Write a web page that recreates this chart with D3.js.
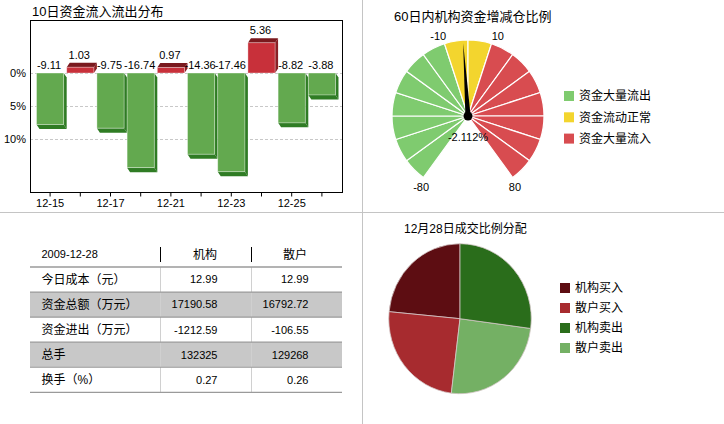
<!DOCTYPE html>
<html><head><meta charset="utf-8">
<script src="https://cdn.jsdelivr.net/npm/d3@7"></script>
<style>
html,body{margin:0;padding:0;background:#fff;}
svg{display:block;font-family:"Liberation Sans",Arial,"Noto Sans CJK SC",sans-serif;}
</style></head>
<body><svg id="c" width="724" height="424"></svg>
<script>
// ---------- data ----------
const barTitle = "10日资金流入流出分布";
const dates = ["12-15","12-16","12-17","12-18","12-21","12-22","12-23","12-24","12-25","12-28"];
const flows = [-9.11, 1.03, -9.75, -16.74, 0.97, -14.36, -17.46, 5.36, -8.82, -3.88];
const pctTicks = [0, 5, 10];

const gaugeTitle = "60日内机构资金增减仓比例";
const gaugeMin = -80, gaugeMax = 80, gaugeStep = 10;
const gaugeBandNames = ["资金大量流出", "资金流动正常", "资金大量流入"];
const gaugeBandLimits = [-10, 10];
const gaugeTickLabels = [-80, -10, 10, 80];
const gaugeValue = -2.112;

const tableHeader = ["2009-12-28", "机构", "散户"];
const rowLabels = ["今日成本（元）", "资金总额（万元）", "资金进出（万元）", "总手", "换手（%）"];
const instValues = ["12.99", "17190.58", "-1212.59", "132325", "0.27"];
const retailValues = ["12.99", "16792.72", "-106.55", "129268", "0.26"];

const pieTitle = "12月28日成交比例分配";
const pieNames = ["机构买入", "散户买入", "机构卖出", "散户卖出"];
const pieValues = [7989.0, 8343.1, 9201.6, 8449.6];
const pieDrawOrder = ["机构买入", "散户买入", "散户卖出", "机构卖出"];

// ---------- styles ----------
const gaugeColors = ["#7fcb6f", "#f3d52e", "#d84c50"];
const pieColors = {"机构买入":"#5d0d12","散户买入":"#a72b2f","机构卖出":"#2a6d1b","散户卖出":"#74b064"};

const svg = d3.select("#c");
svg.append("rect").attr("width",724).attr("height",424).attr("fill","#fff");

// dividers
svg.append("line").attr("x1",362.5).attr("x2",362.5).attr("y1",0).attr("y2",424).attr("stroke","#c4c4c4");
svg.append("line").attr("x1",0).attr("x2",724).attr("y1",212.5).attr("y2",212.5).attr("stroke","#c4c4c4");

// ---------- bar chart ----------
const fr = {l:30, t:20, r:342, b:192};
svg.append("text").attr("x",32).attr("y",16).attr("font-size",13).text(barTitle);

const x = d3.scaleBand().domain(dates).range([35, 337]).paddingInner(0.1).paddingOuter(0.05);
const y = d3.scaleLinear().domain([-21.05, 9.38]).range([fr.b, fr.t]);
const yPct = d3.scaleLinear().domain([0, 10]).range([y(0), y(0) + 66.3]);

const g1 = svg.append("g");
// gridlines
g1.selectAll("line.grid").data(pctTicks).join("line")
  .attr("x1",fr.l).attr("x2",fr.r)
  .attr("y1",d=>Math.round(yPct(d))+0.5).attr("y2",d=>Math.round(yPct(d))+0.5)
  .attr("stroke","#c8c8c8").attr("stroke-dasharray","3,2");

// y axis labels
const yAx = g1.append("g").attr("transform",`translate(${fr.l},0)`)
  .call(d3.axisLeft(yPct).tickValues(pctTicks).tickSize(0).tickPadding(4).tickFormat(d=>d+"%"));
yAx.select(".domain").remove();
yAx.selectAll("text").attr("font-size",11).attr("fill","#000").attr("font-family",null);

// bars
const dx = 3, dz = 4.5;
const bw = x.bandwidth();
flows.forEach((v,i)=>{
  const x0 = x(dates[i]), x1 = x0 + bw;
  const yz = y(0), yv = y(v);
  const dy = v < 0 ? dz : -dz;
  const front = v < 0 ? "#63a94f" : "#c8303a";
  const side = v < 0 ? "#2f7c24" : "#8a1f25";
  const end = v < 0 ? "#2f7c24" : "#7a191e";
  g1.append("polygon").attr("points",[[x1,yz],[x1+dx,yz+dy],[x1+dx,yv+dy],[x1,yv]].join(" ")).attr("fill",side);
  g1.append("polygon").attr("points",[[x0,yv],[x0+dx,yv+dy],[x1+dx,yv+dy],[x1,yv]].join(" ")).attr("fill",end);
  g1.append("rect").attr("x",x0).attr("width",bw)
    .attr("y",Math.min(yz,yv)).attr("height",Math.abs(yv-yz))
    .attr("fill",front).attr("stroke","rgba(255,255,255,0.45)").attr("stroke-width",0.8);
  const ly = v < 0 ? yz - 4 : yv - dz - 4;
  g1.append("text").attr("x",x0+bw/2-1).attr("y",ly).attr("text-anchor","middle")
    .attr("font-size",11).text(v.toFixed(2));
});

// frame
g1.append("rect").attr("x",fr.l+0.5).attr("y",fr.t+0.5).attr("width",fr.r-fr.l).attr("height",fr.b-fr.t)
  .attr("fill","none").attr("stroke","#000");

// x axis
const xAx = g1.append("g").attr("transform",`translate(0,${fr.b+0.5})`)
  .call(d3.axisBottom(x).tickSize(4).tickPadding(3).tickFormat((d,i)=> i%2===0 ? d : ""));
xAx.select(".domain").remove();
xAx.selectAll("line").attr("stroke","#000");
xAx.selectAll("text").attr("font-size",11).attr("fill","#000").attr("font-family",null);

// ---------- gauge ----------
svg.append("text").attr("x",394).attr("y",21).attr("font-size",13).text(gaugeTitle);
const gcx = 468, gcy = 116, gR = 76;
const ga = d3.scaleLinear().domain([gaugeMin, gaugeMax]).range([-0.8*Math.PI, 0.8*Math.PI]);
const bandIdx = v => v < gaugeBandLimits[0] ? 0 : (v < gaugeBandLimits[1] ? 1 : 2);
const sectors = d3.range(gaugeMin, gaugeMax, gaugeStep);
const garc = d3.arc().innerRadius(0).outerRadius(gR);
const g2 = svg.append("g").attr("transform",`translate(${gcx},${gcy})`);
g2.selectAll("path.sec").data(sectors).join("path")
  .attr("d",s=>garc({startAngle:ga(s), endAngle:ga(s+gaugeStep)}))
  .attr("fill",s=>gaugeColors[bandIdx(s+gaugeStep/2)])
  .attr("stroke","#fff").attr("stroke-width",1.2);

// tick labels
gaugeTickLabels.forEach(t=>{
  const ang = ga(t) + Math.sign(t)*2.5*Math.PI/180;
  g2.append("text").attr("x",85*Math.sin(ang)).attr("y",-85*Math.cos(ang)).attr("dy","0.35em")
    .attr("text-anchor","middle").attr("font-size",11).text(t);
});
// needle
const th = ga(gaugeValue);
const tipR = 73, hw = 2.6;
const tip = [tipR*Math.sin(th), -tipR*Math.cos(th)];
const b1 = [hw*Math.cos(th), hw*Math.sin(th)], b2 = [-hw*Math.cos(th), -hw*Math.sin(th)];
g2.append("polygon").attr("points",[tip,b1,b2].join(" ")).attr("fill","#000");
g2.append("circle").attr("r",4.5).attr("fill","#000");
g2.append("text").attr("x",0).attr("y",25).attr("text-anchor","middle").attr("font-size",11)
  .text(gaugeValue + "%");

// gauge legend
gaugeBandNames.forEach((n,i)=>{
  const yy = 91 + i*21.3;
  svg.append("rect").attr("x",564).attr("y",yy).attr("width",10).attr("height",10).attr("fill",gaugeColors[i]);
  svg.append("text").attr("x",579).attr("y",yy+5).attr("dy","0.35em").attr("font-size",12).text(n);
});

// ---------- table ----------
const tl = 30, tr = 342, c1 = 160.5, c2 = 251.5;
const rowY = d3.scaleBand().domain(d3.range(rowLabels.length)).range([267, 392.3]);
const g3 = svg.append("g");
rowLabels.forEach((lab,i)=>{
  if (i%2===1) g3.append("rect").attr("x",tl).attr("y",rowY(i)).attr("width",tr-tl).attr("height",rowY.bandwidth()).attr("fill","#c8c8c8");
});
[c1,c2].forEach(cx=>{
  g3.append("line").attr("x1",cx).attr("x2",cx).attr("y1",267).attr("y2",392.3).attr("stroke","#d0d0d0");
  g3.append("line").attr("x1",cx).attr("x2",cx).attr("y1",247).attr("y2",262).attr("stroke","#000");
});
d3.range(rowLabels.length+1).forEach(i=>{
  const yy = i===rowLabels.length ? 392.3 : rowY(i);
  g3.append("line").attr("x1",tl).attr("x2",tr).attr("y1",yy).attr("y2",yy)
    .attr("stroke","#9a9a9a").attr("stroke-width",i===0?1.5:1.2);
});
g3.append("text").attr("x",41.5).attr("y",254.5).attr("dy","0.35em").attr("font-size",11).text(tableHeader[0]);
g3.append("text").attr("x",217).attr("y",254.5).attr("dy","0.35em").attr("font-size",12).attr("text-anchor","end").text(tableHeader[1]);
g3.append("text").attr("x",307).attr("y",254.5).attr("dy","0.35em").attr("font-size",12).attr("text-anchor","end").text(tableHeader[2]);
rowLabels.forEach((lab,i)=>{
  const cy = rowY(i) + rowY.bandwidth()/2;
  g3.append("text").attr("x",41.5).attr("y",cy).attr("dy","0.35em").attr("font-size",12).text(lab);
  g3.append("text").attr("x",217.5).attr("y",cy).attr("dy","0.35em").attr("font-size",11).attr("text-anchor","end").text(instValues[i]);
  g3.append("text").attr("x",308.5).attr("y",cy).attr("dy","0.35em").attr("font-size",11).attr("text-anchor","end").text(retailValues[i]);
});

// ---------- pie ----------
svg.append("text").attr("x",404).attr("y",233).attr("font-size",12).text(pieTitle);
const pieData = pieDrawOrder.map(n=>({name:n, value:pieValues[pieNames.indexOf(n)]}));
const pie = d3.pie().sort(null).value(d=>d.value).startAngle(0).endAngle(-2*Math.PI);
const parc = d3.arc().innerRadius(0).outerRadius(75);
const g4 = svg.append("g").attr("transform","translate(460,318.7) scale(0.95,1)");
g4.selectAll("path").data(pie(pieData)).join("path")
  .attr("d",parc).attr("fill",d=>pieColors[d.data.name])
  .attr("stroke","#d4c8c8").attr("stroke-width",0.8);

pieNames.forEach((n,i)=>{
  const yy = 283 + i*20;
  svg.append("rect").attr("x",560).attr("y",yy).attr("width",10).attr("height",10).attr("fill",pieColors[n]);
  svg.append("text").attr("x",575).attr("y",yy+5).attr("dy","0.35em").attr("font-size",12).text(n);
});
</script></body></html>
